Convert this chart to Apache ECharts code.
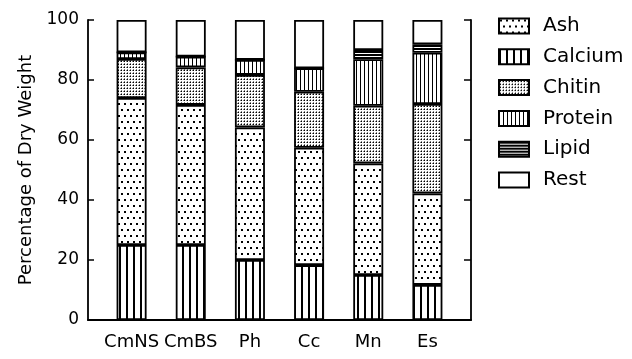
<!DOCTYPE html>
<html>
<head>
<meta charset="utf-8">
<script src="https://cdn.jsdelivr.net/npm/echarts@6/dist/echarts.min.js"></script>
<style>
html,body{margin:0;padding:0;background:#fff;}
#chart{width:632px;height:359px;}
</style>
</head>
<body>
<div id="chart"></div>
<script>
const categories = ['CmNS', 'CmBS', 'Ph', 'Cc', 'Mn', 'Es'];
const calcium = [25, 25, 20, 18.3, 15, 11.7];
const ash = [49, 46.7, 44.2, 39.1, 37.2, 30.5];
const chitin = [13, 12.5, 17.5, 18.7, 19.2, 29.8];
const protein = [2.2, 3.6, 5, 7.8, 15.5, 17.1];
const lipid = [0, 0, 0, 0, 3.1, 2.8];
const rest = [10.8, 12.2, 13.3, 16.1, 10, 8.1];
const yTicks = [0, 20, 40, 60, 80, 100];
const legendOrder = ['Ash', 'Calcium', 'Chitin', 'Protein', 'Lipid', 'Rest'];

function makePattern(w, h, draw) {
  const c = document.createElement('canvas');
  c.width = w; c.height = h;
  const ctx = c.getContext('2d');
  ctx.fillStyle = '#fff';
  ctx.fillRect(0, 0, w, h);
  ctx.fillStyle = '#000';
  draw(ctx);
  return { image: c, repeat: 'repeat' };
}
const pAsh = makePattern(6, 12, ctx => { ctx.fillRect(1, 1, 2, 2); ctx.fillRect(4, 7, 2, 2); });
const pCalcium = makePattern(7, 1, ctx => { ctx.fillRect(0, 0, 2, 1); });
const pChitin = makePattern(3, 3, ctx => { ctx.fillRect(1, 1, 1, 1); ctx.fillStyle = 'rgba(0,0,0,0.5)'; ctx.fillRect(0, 1, 1, 1); ctx.fillRect(1, 0, 1, 1); });
const pProtein = makePattern(4, 1, ctx => { ctx.fillRect(0, 0, 1, 1); });
const pLipid = makePattern(1, 3, ctx => { ctx.fillRect(0, 0, 1, 2); });

const chart = echarts.init(document.getElementById('chart'), null, { renderer: 'canvas' });
const FONT = 'DejaVu Sans';
function seg(name, data, color) {
  return {
    name: name, type: 'bar', stack: 'total', data: data,
    xAxisIndex: 1, yAxisIndex: 2, barWidth: 30,
    itemStyle: { color: color, borderColor: '#000', borderWidth: 1.8 },
    emphasis: { disabled: true },
    animation: false
  };
}
chart.setOption({
  animation: false,
  backgroundColor: '#fff',
  textStyle: { fontFamily: FONT, color: '#000' },
  legend: {
    orient: 'vertical', left: 498, top: 16, padding: 0,
    data: legendOrder,
    itemWidth: 30, itemHeight: 15, itemGap: 10.8,
    icon: 'rect',
    textStyle: { fontFamily: FONT, fontSize: 20, color: '#000', lineHeight: 20, padding: [0, 0, 0, 9] },
    selectedMode: false
  },
  grid: [
    { left: 88, right: 161, top: 20, bottom: 39 },
    { left: 102, right: 175, top: 20, bottom: 39 }
  ],
  xAxis: [
    { type: 'value', gridIndex: 0, min: 0, max: 1, position: 'bottom',
      axisLine: { show: true, lineStyle: { color: '#000', width: 1.8 } },
      axisTick: { show: false }, axisLabel: { show: false }, splitLine: { show: false } },
    { type: 'category', gridIndex: 1, data: categories, position: 'bottom',
      axisLine: { show: false }, axisTick: { show: false },
      axisLabel: { interval: 0, fontFamily: FONT, fontSize: 18, color: '#000', margin: 13 } }
  ],
  yAxis: [
    { type: 'value', gridIndex: 0, min: 0, max: 100, interval: 20, position: 'left',
      name: 'Percentage of Dry Weight', nameLocation: 'middle', nameGap: 52,
      nameTextStyle: { fontFamily: FONT, fontSize: 18, color: '#000' },
      axisLine: { show: true, lineStyle: { color: '#000', width: 1.8 } },
      axisTick: { show: true, inside: true, length: 6, lineStyle: { color: '#000', width: 1.5 } },
      axisLabel: { fontFamily: FONT, fontSize: 17, color: '#000', margin: 9,
        customValues: yTicks },
      splitLine: { show: false } },
    { type: 'value', gridIndex: 0, min: 0, max: 100, interval: 20, position: 'right',
      axisLine: { show: true, lineStyle: { color: '#000', width: 1.8 } },
      axisTick: { show: true, inside: true, length: 7, lineStyle: { color: '#000', width: 1.5 } },
      axisLabel: { show: false }, splitLine: { show: false } },
    { type: 'value', gridIndex: 1, min: 0, max: 100, show: false }
  ],
  series: [
    seg('Calcium', calcium, pCalcium),
    seg('Ash', ash, pAsh),
    seg('Chitin', chitin, pChitin),
    seg('Protein', protein, pProtein),
    seg('Lipid', lipid, pLipid),
    seg('Rest', rest, '#fff')
  ]
});
</script>
</body>
</html>
